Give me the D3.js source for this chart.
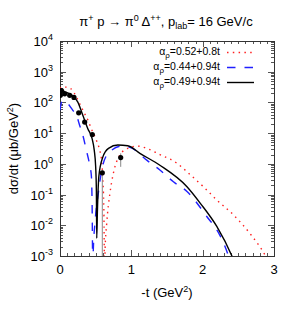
<body style="margin:0;background:#fff">
<script src="https://d3js.org/d3.v7.min.js"></script>
<script>
// measured points (-t in GeV^2, dsigma/dt in ub/GeV^2)
var tData   = [0.005, 0.02, 0.066, 0.136, 0.196, 0.262, 0.346, 0.453, 0.593, 0.851];
var sigData = [170, 245, 190, 170, 145, 46, 23, 9, 0.51, 1.6];
var errLo   = [150, 220, 170, 152, 130, 41, 20.5, 8, 0.0001, 0.8];
var errHi   = [190, 270, 210, 188, 160, 51, 25.5, 10, 0.62, 2.2];

// model curves
var tRed = [0, 0.02, 0.088, 0.15, 0.23, 0.276, 0.346, 0.393, 0.44, 0.51, 0.557, 0.58, 0.60, 0.615,
  0.625, 0.632, 0.655, 0.70, 0.748, 0.84, 0.95, 1.08, 1.2, 1.4, 1.64, 1.8, 2.0, 2.2, 2.43, 2.66, 2.875, 2.95];
var sigRed = [282, 316, 316, 282, 151, 91, 43, 26, 13.8, 5.9, 2.75, 1.48, 0.32, 0.032,
  0.0003, 0.0016, 0.0117, 0.11, 0.49, 1.95, 3.2, 3.8, 3.3, 2.0, 1.05, 0.5, 0.19, 0.066, 0.022, 0.0055, 0.00107, 0.0005];

var tBlue = [0, 0.02, 0.045, 0.11, 0.18, 0.23, 0.276, 0.32, 0.37, 0.417, 0.44, 0.45, 0.46, 0.467,
  0.49, 0.537, 0.585, 0.677, 0.87, 1.0, 1.216, 1.40, 1.59, 1.78, 2.06, 2.24, 2.35, 2.4];
var sigBlue = [56, 100, 115, 91, 55, 38, 17.8, 8.5, 2.75, 0.89, 0.4, 0.05, 0.0003, 0.0016,
  0.0117, 0.11, 0.63, 2.2, 3.8, 3.3, 1.32, 0.63, 0.26, 0.126, 0.019, 0.0048, 0.0012, 0.0005];

var tBlack = [0, 0.03, 0.08, 0.16, 0.25, 0.32, 0.39, 0.45, 0.48, 0.50, 0.51, 0.515, 0.525, 0.545,
  0.60, 0.68, 0.81, 0.95, 1.12, 1.40, 1.78, 1.97, 2.20, 2.41, 2.45];
var sigBlack = [150, 245, 215, 178, 102, 38, 14, 6.6, 2.8, 0.8, 0.13, 0.0038, 0.032, 0.4,
  1.66, 3.2, 4.1, 3.9, 2.2, 0.9, 0.18, 0.051, 0.009, 0.001, 0.0006];

var legendText = [['0.52+0.8t', '#ff2020', '1.5,4.3'], ['0.44+0.94t', '#2020ff', '8.5,9'], ['0.49+0.94t', '#000', null]];
var xTicks = [0, 1, 2, 3];
var yExp = [-3, -2, -1, 0, 1, 2, 3, 4];

var W = 300, H = 315;
var plot = { left: 60, right: 274, top: 41, bottom: 256 };

var svg = d3.select('body').append('svg')
  .attr('width', W).attr('height', H)
  .style('font-family', '"Liberation Sans", Arial, sans-serif');

var x = d3.scaleLinear().domain([0, 3]).range([plot.left, plot.right]);
var y = d3.scaleLog().domain([1e-3, 1e4]).range([plot.bottom, plot.top]);

svg.append('clipPath').attr('id', 'clip')
  .append('rect')
  .attr('x', plot.left).attr('y', plot.top)
  .attr('width', plot.right - plot.left).attr('height', plot.bottom - plot.top);

// ticks, inside and mirrored
var tickG = svg.append('g').attr('stroke', '#555').attr('stroke-width', 1);
d3.range(0, 3.001, 0.1).forEach(function(v) {
  var major = Math.abs(v - Math.round(v)) < 1e-6;
  var len = major ? 6 : 3;
  var px = Math.round(x(v)) + 0.5;
  tickG.append('line').attr('x1', px).attr('x2', px).attr('y1', plot.bottom).attr('y2', plot.bottom - len);
  tickG.append('line').attr('x1', px).attr('x2', px).attr('y1', plot.top).attr('y2', plot.top + len);
});
yExp.forEach(function(e) {
  for (var m = 1; m <= 9; m++) {
    var v = m * Math.pow(10, e);
    if (v > 1e4) break;
    var len = m === 1 ? 6 : 3;
    var py = Math.round(y(v)) + 0.5;
    tickG.append('line').attr('y1', py).attr('y2', py).attr('x1', plot.left).attr('x2', plot.left + len);
    tickG.append('line').attr('y1', py).attr('y2', py).attr('x1', plot.right).attr('x2', plot.right - len);
  }
});

// frame
svg.append('rect')
  .attr('x', plot.left + 0.5).attr('y', plot.top + 0.5)
  .attr('width', plot.right - plot.left).attr('height', plot.bottom - plot.top)
  .attr('fill', 'none').attr('stroke', '#333').attr('stroke-width', 1);

// tick labels
svg.append('g').selectAll('text').data(xTicks).join('text')
  .attr('x', d => x(d)).attr('y', 274)
  .attr('text-anchor', 'middle').attr('font-size', 13)
  .text(d => d);

var yl = svg.append('g').selectAll('text').data(yExp).join('text')
  .attr('x', 53).attr('y', d => y(Math.pow(10, d)) + 5)
  .attr('text-anchor', 'end').attr('font-size', 13);
yl.append('tspan').text('10');
yl.append('tspan').attr('dy', -6).attr('font-size', 9).text(d => d);

// axis titles
var xt = svg.append('text').attr('x', 167).attr('y', 297)
  .attr('text-anchor', 'middle').attr('font-size', 13);
xt.append('tspan').text('-t (GeV');
xt.append('tspan').attr('dy', -5).attr('font-size', 9).text('2');
xt.append('tspan').attr('dy', 5).text(')');

var yt = svg.append('text')
  .attr('transform', 'translate(18,' + ((plot.top + plot.bottom) / 2) + ') rotate(-90)')
  .attr('text-anchor', 'middle').attr('font-size', 13);
yt.append('tspan').text('d\u03c3/dt (\u03bcb/GeV');
yt.append('tspan').attr('dy', -5).attr('font-size', 9).text('2');
yt.append('tspan').attr('dy', 5).text(')');

// title
var tt = svg.append('text').attr('x', 166).attr('y', 26)
  .attr('text-anchor', 'middle').attr('font-size', 13);
tt.append('tspan').text('\u03c0');
tt.append('tspan').attr('dy', -5).attr('font-size', 9).text('+');
tt.append('tspan').attr('dy', 5).text(' p \u2192 \u03c0');
tt.append('tspan').attr('dy', -5).attr('font-size', 9).text('0');
tt.append('tspan').attr('dy', 5).text(' \u0394');
tt.append('tspan').attr('dy', -5).attr('font-size', 9).text('++');
tt.append('tspan').attr('dy', 5).text(', p');
tt.append('tspan').attr('dy', 3).attr('font-size', 9).text('lab');
tt.append('tspan').attr('dy', -3).text('= 16 GeV/c');

// curves
var line = d3.line()
  .x(d => x(d[0]))
  .y(d => y(d[1]))
  .curve(d3.curveMonotoneX);

var curves = [
  { t: tRed, v: sigRed, color: '#ff2020', dash: '1.5,4.3' },
  { t: tBlue, v: sigBlue, color: '#2020ff', dash: '8.5,9' },
  { t: tBlack, v: sigBlack, color: '#000', dash: null }
];

var cg = svg.append('g').attr('clip-path', 'url(#clip)');
curves.forEach(function(c) {
  cg.append('path')
    .attr('d', line(d3.zip(c.t, c.v)))
    .attr('fill', 'none')
    .attr('stroke', c.color)
    .attr('stroke-width', 1.4)
    .attr('stroke-dasharray', c.dash);
});

// data with error bars
cg.append('g').selectAll('line').data(d3.range(tData.length)).join('line')
  .attr('x1', i => x(tData[i])).attr('x2', i => x(tData[i]))
  .attr('y1', i => y(errLo[i])).attr('y2', i => y(errHi[i]))
  .attr('stroke', '#888').attr('stroke-width', 1);
cg.append('g').selectAll('circle').data(d3.range(tData.length)).join('circle')
  .attr('cx', i => x(tData[i])).attr('cy', i => y(sigData[i]))
  .attr('r', 2.6).attr('fill', '#000');

// legend
legendText.forEach(function(l, i) {
  var by = 55 + i * 15;
  var tx = svg.append('text').attr('x', 220).attr('y', by)
    .attr('text-anchor', 'end').attr('font-size', 10.5);
  tx.append('tspan').text('\u03b1');
  tx.append('tspan').attr('dy', 3).attr('font-size', 8).text('\u03c1');
  tx.append('tspan').attr('dy', -3).text('=' + l[0]);
  svg.append('line')
    .attr('x1', 227).attr('x2', 254).attr('y1', by - 2.5).attr('y2', by - 2.5)
    .attr('stroke', l[1]).attr('stroke-width', 1.4)
    .attr('stroke-dasharray', l[2]);
});
</script>
</body>
